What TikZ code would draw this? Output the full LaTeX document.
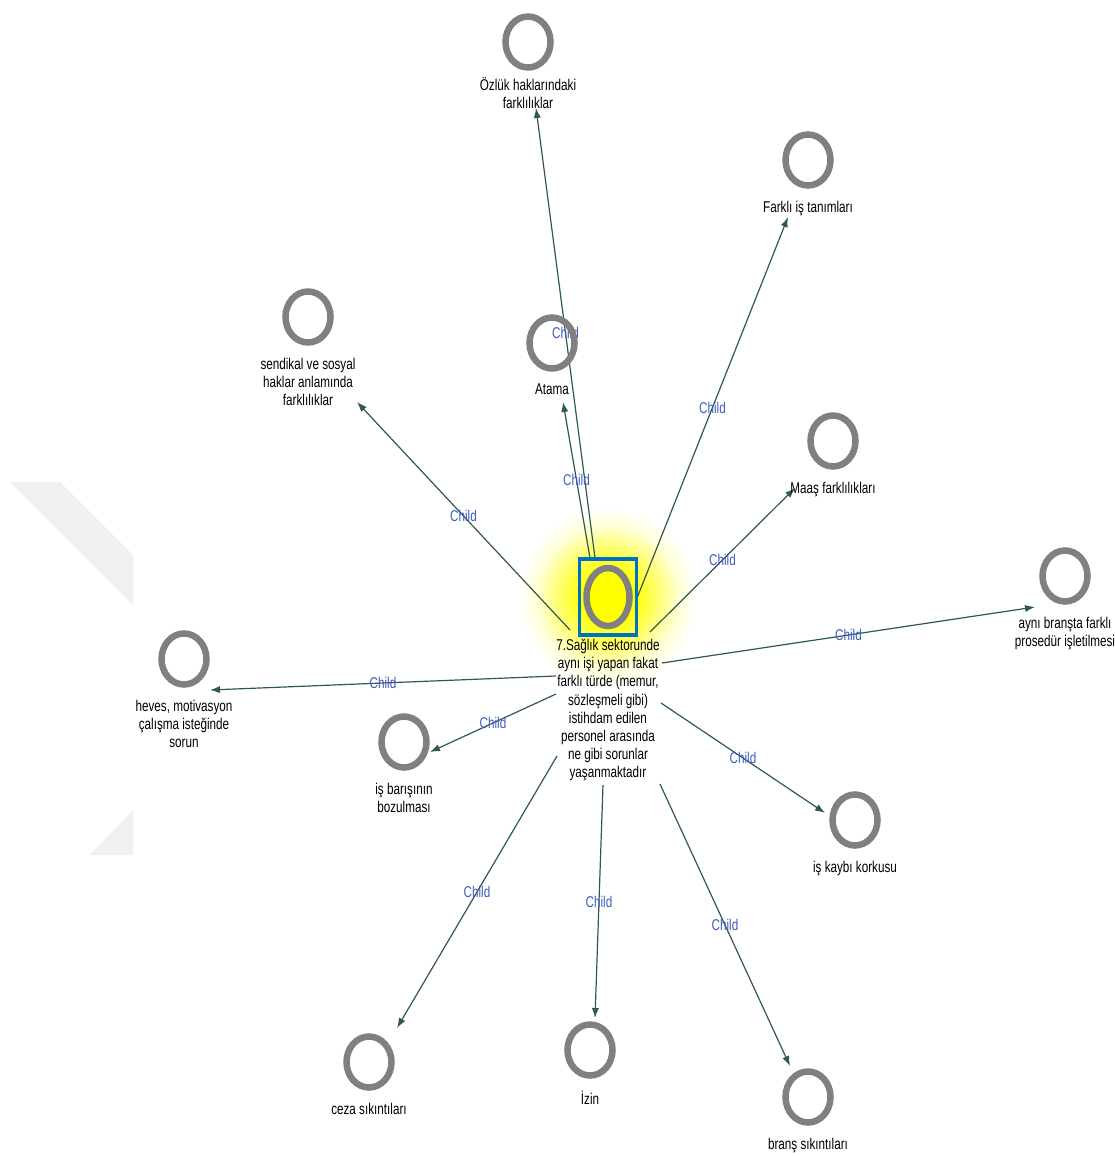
\documentclass[tikz,border=0pt]{standalone}
\usepackage{fontspec}
\setmainfont[FakeStretch=0.75]{Liberation Sans}
\usetikzlibrary{positioning,shapes.geometric,arrows.meta,calc}

\definecolor{ringgray}{RGB}{128,128,128}
\definecolor{linkgreen}{RGB}{47,88,78}
\definecolor{childblue}{RGB}{62,92,190}
\definecolor{boxblue}{RGB}{0,112,192}
\definecolor{wmgray}{RGB}{240,240,240}

\pgfdeclarelayer{background}
\pgfsetlayers{background,main}
\pgfdeclareradialshading{glowshade}{\pgfpoint{0bp}{0bp}}{color(0bp)=(yellow); color(7bp)=(yellow); color(14bp)=(yellow!55); color(20bp)=(yellow!15); color(25bp)=(white); color(50bp)=(white)}

\newcommand\diagfont{\fontsize{7.8pt}{9.1pt}\selectfont}

\tikzset{
  topic/.style={ellipse, draw=ringgray, line width=3.25pt, minimum width=22.5pt,
    minimum height=25.5pt, inner sep=0pt},
  topictext/.style={align=center, font=\diagfont, inner sep=1pt, below=5pt of #1},
  rootbox/.style={draw=boxblue, line width=1.6pt, minimum width=28.5pt,
    minimum height=38pt, inner sep=0pt},
  link/.style={draw=linkgreen, line width=0.6pt, -{Latex[length=5pt,width=3.6pt]}},
  childlbl/.style={text=childblue, font=\diagfont, inner sep=0.5pt}
}

\begin{document}
\begin{tikzpicture}[x=0.5pt,y=-0.5pt]
  \useasboundingbox (0,0) rectangle (1114,1156);
  % centre question
  \node[topic, minimum width=21.5pt, minimum height=29pt] (root) at (608,597) {};
  \node[rootbox] (rootbox) at (608,597) {};
  \node[topictext=rootbox, below=0pt of rootbox] (roottext)
    {7.Sağlık sektorunde\\aynı işi yapan fakat\\farklı türde (memur,\\sözleşmeli gibi)\\istihdam edilen\\personel arasında\\ne gibi sorunlar\\yaşanmaktadır};
  %
  % answers
  \node[topic] (ozluk) at (528,42) {};
  \node[topictext=ozluk, below=2pt of ozluk] (ozlukt) {Özlük haklarındaki\\farklılıklar};
  \node[topic] (farkli) at (808,160) {};
  \node[topictext=farkli] (farklit) {Farklı iş tanımları};
  \node[topic] (sendikal) at (308,317) {};
  \node[topictext=sendikal] (sendikalt) {sendikal ve sosyal\\haklar anlamında\\farklılıklar};
  \node[topic] (atama) at (552,343) {};
  \node[topictext=atama] (atamat) {Atama};
  \node[topic] (maas) at (833,441) {};
  \node[topictext=maas] (maast) {Maaş farklılıkları};
  \node[topic] (ayni) at (1065,576) {};
  \node[topictext=ayni] (aynit) {aynı branşta farklı\\prosedür işletilmesi};
  \node[topic] (heves) at (184,659) {};
  \node[topictext=heves] (hevest) {heves, motivasyon\\çalışma isteğinde\\sorun};
  \node[topic] (baris) at (404,742) {};
  \node[topictext=baris] (barist) {iş barışının\\bozulması};
  \node[topic] (kaybi) at (855,820) {};
  \node[topictext=kaybi] (kaybit) {iş kaybı korkusu};
  \node[topic] (ceza) at (369,1062) {};
  \node[topictext=ceza] (cezat) {ceza sıkıntıları};
  \node[topic] (izin) at (590,1050) {};
  \node[topictext=izin] (izint) {İzin};
  \node[topic] (brans) at (808,1097) {};
  \node[topictext=brans] (branst) {branş sıkıntıları};
  %
  \begin{pgfonlayer}{background}
    \shade[shading=glowshade] (root) circle (45pt);
    \fill[wmgray] (10,482) -- (60,482) -- (133,555) -- (133,605) -- cycle;
    \fill[wmgray] (133,810) -- (90,855) -- (133,855) -- cycle;
    % Child links, from the centre to each answer
    \foreach \n/\sx/\sy/\tx/\ty in {ozluk/-13/-39/8/66, atama/-18/-39/11/59,
        farkli/29/1/-20/57, sendikal/-38/33/49/85, maas/42/35/-38/47,
        ayni/54/66/-30/31, heves/-52/79/26/31, baris/-52/97/26/10,
        kaybi/53/106/-30/-7, ceza/-51/159/28/-34, izin/-5/188/5/-32,
        brans/52/187/-18/-31}
      \draw[link] ($(root)+(\sx,\sy)$) -- node[childlbl] {Child} ($(\n)+(\tx,\ty)$);
  \end{pgfonlayer}
\end{tikzpicture}
\end{document}
